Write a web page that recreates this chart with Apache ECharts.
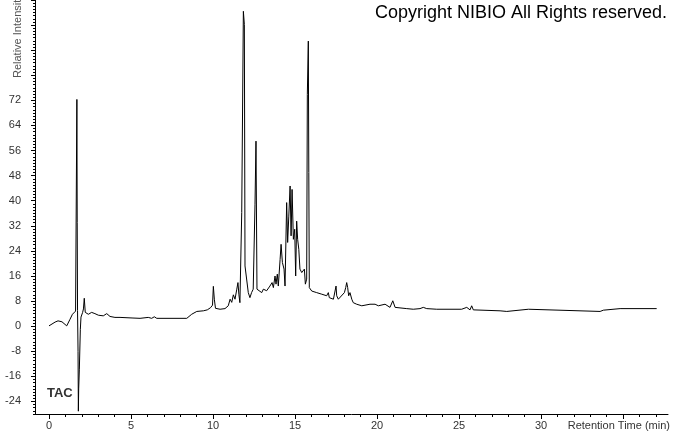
<!DOCTYPE html>
<html>
<head>
<meta charset="utf-8">
<script src="https://cdn.jsdelivr.net/npm/echarts@6/dist/echarts.min.js"></script>
<style>
html,body{margin:0;padding:0;background:#fff;}
#chart{width:673px;height:433px;}
</style>
</head>
<body>
<div id="chart"></div>
<script>
// Retention time (min)
var times = [
0.00,0.37,0.55,0.79,1.08,1.28,1.43,1.52,1.62,1.68,1.70,1.72,1.74,1.77,1.79,1.81,1.85,1.91,1.95,2.05,
2.10,2.15,2.21,2.40,2.60,2.80,3.01,3.31,3.52,3.72,4.02,4.33,5.12,5.55,6.05,6.26,6.42,6.57,8.40,8.70,
9.01,9.41,9.65,9.85,9.97,10.02,10.08,10.15,10.43,10.73,10.93,11.04,11.14,11.24,11.34,11.45,11.52,11.58,11.64,11.75,
11.85,11.91,11.95,12.05,12.15,12.25,12.35,12.45,12.56,12.62,12.68,12.77,12.97,13.07,13.27,13.47,13.60,13.68,13.78,13.84,
13.92,13.98,14.09,14.15,14.23,14.33,14.39,14.49,14.55,14.62,14.70,14.76,14.82,14.90,14.98,15.04,15.10,15.16,15.23,15.30,
15.41,15.51,15.57,15.63,15.71,15.75,15.81,15.84,15.87,16.02,16.32,16.63,16.93,17.03,17.09,17.34,17.50,17.54,17.64,17.74,
18.01,18.09,18.15,18.21,18.27,18.35,18.46,18.55,18.76,19.07,19.57,19.68,19.88,20.08,20.49,20.59,20.79,20.96,21.10,21.81,
22.21,22.62,22.82,23.03,23.64,25.16,25.47,25.67,25.77,25.87,27.50,27.91,29.23,29.33,33.60,33.80,34.82,37.05
];
// Relative intensity
var intensity = [
0.1,1.3,1.7,1.4,0.1,2.2,3.8,4.1,4.8,5.2,72.3,33.0,5.0,-8.0,-27.1,-20.0,-13.7,-1.0,2.9,4.4,
5.5,8.9,4.4,3.8,4.4,4.0,3.5,3.3,4.0,3.1,2.8,2.8,2.6,2.5,2.8,2.5,3.0,2.5,2.5,3.8,
4.7,4.9,5.2,5.9,6.7,12.7,8.6,5.7,5.4,5.6,6.5,8.6,7.6,10.0,8.6,11.8,13.9,10.0,7.5,36.2,
100.4,96.2,19.2,19.2,10.7,9.1,10.7,11.8,38.9,59.0,11.8,11.3,10.7,11.8,11.3,12.8,13.9,12.3,16.0,13.4,
16.6,12.8,21.3,26.1,20.3,18.2,12.8,39.4,26.7,35.1,44.7,28.8,43.6,27.7,30.9,16.0,33.5,27.7,24.5,18.2,
17.1,16.6,18.2,13.4,15.0,73.9,90.9,49.0,12.3,11.2,10.7,10.2,9.7,10.7,9.1,8.6,12.8,9.7,8.6,8.1,
10.7,12.3,13.9,12.3,9.7,10.7,8.6,7.5,7.0,6.5,7.0,6.5,7.0,6.5,7.0,6.5,6.0,8.1,6.0,5.6,
5.4,5.6,6.0,5.6,5.4,5.4,6.0,5.2,6.5,5.2,4.9,4.7,5.4,4.9,4.7,5.1,5.6,5.6
];
var xMajorTicks = [0,5,10,15,20,25,30,35];
var xTickLabels = [0,5,10,15,20,25,30];
var yTickLabels = [-24,-16,-8,0,8,16,24,32,40,48,56,64,72];
var yMajorTicks = [-24,-16,-8,0,8,16,24,32,40,48,56,64,72,80,88,96,104];

var XMIN = -0.854, XMAX = 37.74, YMIN = -28, YMAX = 104;
var data = times.map(function (t, k) { return [t, intensity[k]]; });

var FONT = '"Liberation Sans", Arial, sans-serif';
var PX_PER_MIN = 16.4;
var chart = echarts.init(document.getElementById('chart'), null, {renderer: 'canvas'});
chart.setOption({
  animation: false,
  backgroundColor: '#ffffff',
  grid: [
    {left: 35, right: 5, top: 0, bottom: 19, containLabel: false},
    {left: 49, width: 37 * PX_PER_MIN, top: 0, bottom: 19, containLabel: false}
  ],
  xAxis: [{
    type: 'value', min: XMIN, max: XMAX, position: 'bottom', gridIndex: 0,
    axisLine: {show: true, onZero: false, lineStyle: {color: '#000', width: 1}},
    axisTick: {show: true, customValues: xMajorTicks, length: 5, lineStyle: {color: '#000'}},
    axisLabel: {show: true, customValues: xTickLabels, margin: 6, color: '#333', fontSize: 11, fontFamily: FONT},
    splitLine: {show: false}
  }, {
    type: 'value', min: 0, max: 37, interval: 1, position: 'bottom', gridIndex: 1,
    axisLine: {show: false, onZero: false},
    axisTick: {show: true, length: 3, lineStyle: {color: '#000'}},
    axisLabel: {show: false},
    splitLine: {show: false}
  }],
  yAxis: [{
    type: 'value', min: YMIN, max: YMAX, position: 'left', gridIndex: 0,
    axisLine: {show: true, onZero: false, lineStyle: {color: '#000', width: 1}},
    axisTick: {show: true, customValues: yMajorTicks, length: 4, lineStyle: {color: '#000'}},
    axisLabel: {show: true, customValues: yTickLabels, margin: 14, color: '#333', fontSize: 11, fontFamily: FONT},
    splitLine: {show: false}
  }, {
    type: 'value', min: YMIN, max: YMAX, interval: 1, position: 'left', gridIndex: 0,
    axisLine: {show: false, onZero: false},
    axisTick: {show: true, length: 2, lineStyle: {color: '#000'}},
    axisLabel: {show: false},
    splitLine: {show: false}
  }, {
    type: 'value', min: YMIN, max: YMAX, gridIndex: 1, show: false
  }],
  series: [{
    type: 'line', xAxisIndex: 0, yAxisIndex: 0,
    data: data, symbol: 'none', smooth: false,
    lineStyle: {color: '#000', width: 1}
  }],
  graphic: [
    {type: 'text', x: 667, y: 13, style: {text: 'Copyright NIBIO All Rights reserved.', font: '18px ' + FONT, fill: '#000', textAlign: 'right', textVerticalAlign: 'middle'}},
    {type: 'text', x: 47, y: 393, style: {text: 'TAC', font: 'bold 13px ' + FONT, fill: '#333', textAlign: 'left', textVerticalAlign: 'middle'}},
    {type: 'text', x: 670, y: 426, style: {text: 'Retention Time (min)', font: '11px ' + FONT, fill: '#333', textAlign: 'right', textVerticalAlign: 'middle'}},
    {type: 'text', x: 18, y: 78, rotation: Math.PI / 2, style: {text: 'Relative Intensity', font: '11px ' + FONT, fill: '#555', textAlign: 'left', textVerticalAlign: 'middle'}}
  ]
});
</script>
</body>
</html>
